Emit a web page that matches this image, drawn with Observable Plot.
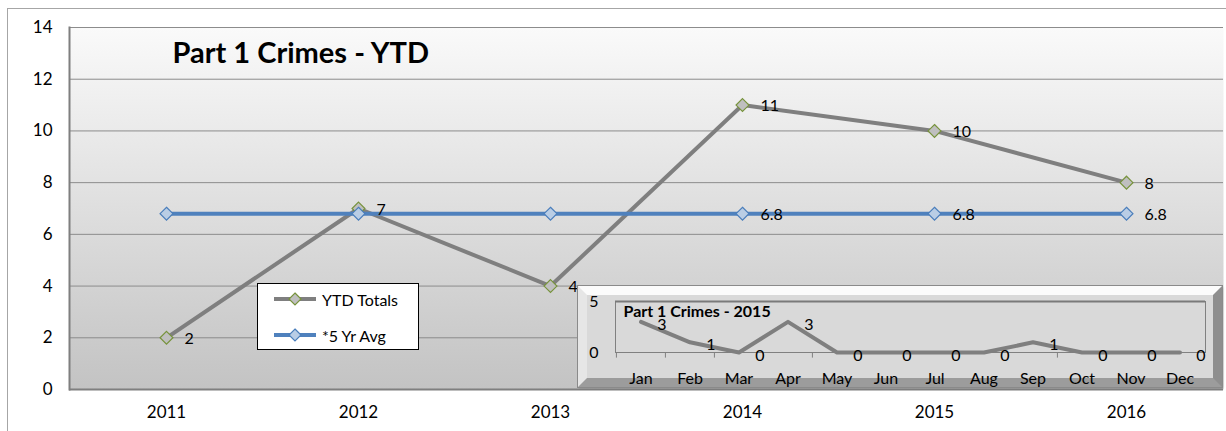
<!DOCTYPE html>
<html>
<head>
<meta charset="utf-8">
<script src="https://cdn.jsdelivr.net/npm/d3@7"></script>
<script src="https://cdn.jsdelivr.net/npm/@observablehq/plot@0.6"></script>
<style>
  html, body { margin: 0; padding: 0; background: #fff; }
  body { width: 1226px; height: 431px; position: relative; overflow: hidden; font-family: Lato, "Open Sans", sans-serif; }
  #outer { position: absolute; left: 7px; top: 8px; width: 1300px; height: 500px; border: 1px solid #a6a6a6; box-sizing: border-box; }
  #main { position: absolute; left: 0; top: 0; }
  #legend { position: absolute; left: 257px; top: 283px; width: 162px; height: 67px; background: #fff; border: 1px solid #000; box-sizing: border-box; font-size: 16px; }
  #legend .item { position: absolute; left: 14px; height: 20px; display: flex; align-items: center; }
  #legend svg { margin-right: 4px; }
  #bevel { position: absolute; left: 578px; top: 286px; width: 644px; height: 101px; box-sizing: border-box;
           border: 9px solid; border-color: #fbfbfb #8e8e8e #9c9c9c #e6e6e6; outline: 1px solid #8a8a8a; background: #d9d9d9;
           box-shadow: 1px 1px 2px rgba(0,0,0,0.25); }
  #inset { position: absolute; left: 578px; top: 287px; }
</style>
</head>
<body>
<div id="outer"></div>
<div id="main"></div>
<div id="legend"></div>
<div id="bevel"></div>
<div id="inset"></div>
<script>
// ---- data ----
const years = ["2011", "2012", "2013", "2014", "2015", "2016"];
const ytdTotals = [2, 7, 4, 11, 10, 8];
const fiveYrAvg = [6.8, 6.8, 6.8, 6.8, 6.8, 6.8];
const avgLabelYears = ["2014", "2015", "2016"];
const yTicks = [0, 2, 4, 6, 8, 10, 12, 14];
const seriesNames = ["YTD Totals", "*5 Yr Avg"];

const months = ["Jan", "Feb", "Mar", "Apr", "May", "Jun", "Jul", "Aug", "Sep", "Oct", "Nov", "Dec"];
const monthly2015 = [3, 1, 0, 3, 0, 0, 0, 0, 1, 0, 0, 0];
const insetTicks = [0, 5];

const mainTitle = "Part 1 Crimes - YTD";
const insetTitle = "Part 1 Crimes - 2015";

// ---- derived tables ----
const ytdData = years.map((y, i) => ({year: y, value: ytdTotals[i]}));
const avgData = years.map((y, i) => ({year: y, value: fiveYrAvg[i]}));
const avgLabelData = avgData.filter(d => avgLabelYears.includes(d.year));
const monthData = months.map((m, i) => ({month: m, value: monthly2015[i]}));

const GRAY = "#7f7f7f", BLUE = "#4f81bd", OLIVE = "#77933c";

const main = Plot.plot({
  width: 1226, height: 431,
  marginLeft: 69, marginRight: 3, marginTop: 27, marginBottom: 42,
  style: {fontFamily: "Lato, 'Open Sans', sans-serif", fontSize: "17px", color: "#000", background: "transparent"},
  x: {type: "band", domain: years, padding: 0, label: null, tickSize: 0, tickPadding: 16},
  y: {domain: [0, 14], ticks: yTicks, label: null, tickSize: 0, tickPadding: 17},
  marks: [
    Plot.frame({fill: "url(#bgGrad)", stroke: "none"}),
    Plot.gridY(yTicks, {stroke: "#8c8c8c", strokeOpacity: 1}),
    Plot.ruleY([0], {stroke: "#7f7f7f", strokeWidth: 2}),
    Plot.frame({anchor: "left", stroke: "#7f7f7f", strokeWidth: 2}),
    Plot.line(ytdData, {x: "year", y: "value", stroke: GRAY, strokeWidth: 4}),
    Plot.dot(ytdData, {x: "year", y: "value", symbol: "diamond2", r: 5.8, fill: "#bfbfbf", stroke: OLIVE, strokeWidth: 1.2}),
    Plot.line(avgData, {x: "year", y: "value", stroke: BLUE, strokeWidth: 4}),
    Plot.dot(avgData, {x: "year", y: "value", symbol: "diamond2", r: 5.8, fill: "#b9cde5", stroke: "#4a7ebb", strokeWidth: 1.2}),
    Plot.text(ytdData, {x: "year", y: "value", text: d => String(d.value), textAnchor: "start", dx: 18, dy: 1, fontSize: 16, fill: "#000"}),
    Plot.text(avgLabelData, {x: "year", y: "value", text: d => String(d.value), textAnchor: "start", dx: 18, dy: 1, fontSize: 16, fill: "#000"}),
    Plot.text([mainTitle], {frameAnchor: "top-left", dx: 103, dy: 15, fontSize: 29, fontWeight: "bold", fill: "#000"})
  ]
});
// gradient background
const defs = document.createElementNS("http://www.w3.org/2000/svg", "defs");
defs.innerHTML = `<linearGradient id="bgGrad" x1="0" y1="0" x2="0" y2="1">
  <stop offset="0" stop-color="#fafafa"/><stop offset="1" stop-color="#c3c3c3"/></linearGradient>`;
main.insertBefore(defs, main.firstChild);
document.getElementById("main").appendChild(main);

// legend
function swatch(stroke, fill, mstroke) {
  return `<svg width="46" height="14"><line x1="2" x2="44" y1="7" y2="7" stroke="${stroke}" stroke-width="4"/>
  <path d="M23,1L29,7L23,13L17,7Z" fill="${fill}" stroke="${mstroke}" stroke-width="1.2"/></svg>`;
}
const legend = document.getElementById("legend");
legend.innerHTML =
  `<div class="item" style="top:5px">${swatch(GRAY, "#bfbfbf", OLIVE)}<span>${seriesNames[0]}</span></div>` +
  `<div class="item" style="top:41px">${swatch(BLUE, "#b9cde5", "#4a7ebb")}<span>${seriesNames[1]}</span></div>`;

// inset
const insetW = 644, insetH = 99;
const inset = Plot.plot({
  width: insetW, height: insetH,
  marginLeft: 37, marginRight: 17, marginTop: 14, marginBottom: 34,
  style: {fontFamily: "Lato, 'Open Sans', sans-serif", fontSize: "16px", color: "#000", background: "transparent", overflow: "visible"},
  x: {type: "band", domain: months, padding: 0, label: null, tickSize: 0, tickPadding: 20},
  y: {domain: [0, 5], ticks: insetTicks, tickFormat: d3.format("d"), label: null, tickSize: 0, tickPadding: 17},
  marks: [
    Plot.frame({stroke: "#808080", strokeWidth: 1}),
    Plot.ruleY([5], {stroke: "#7a7a7a", strokeWidth: 2}),
    Plot.ruleY([0], {stroke: "#808080", strokeWidth: 1}),
    Plot.ruleX(months, {x: d => d, y1: 0, y2: -0.55, dx: -(insetW - 54) / 24, stroke: "#808080", clip: false}),
    Plot.line(monthData, {x: "month", y: "value", stroke: GRAY, strokeWidth: 4}),
    Plot.text(monthData, {x: "month", y: "value", text: d => String(d.value), dx: 21, dy: 3, fontSize: 16, fill: "#000"}),
    Plot.text([insetTitle], {frameAnchor: "top-left", dx: 8, dy: 4, fontSize: 16, fontWeight: "bold", fill: "#000"})
  ]
});
document.getElementById("inset").appendChild(inset);
</script>
</body>
</html>
